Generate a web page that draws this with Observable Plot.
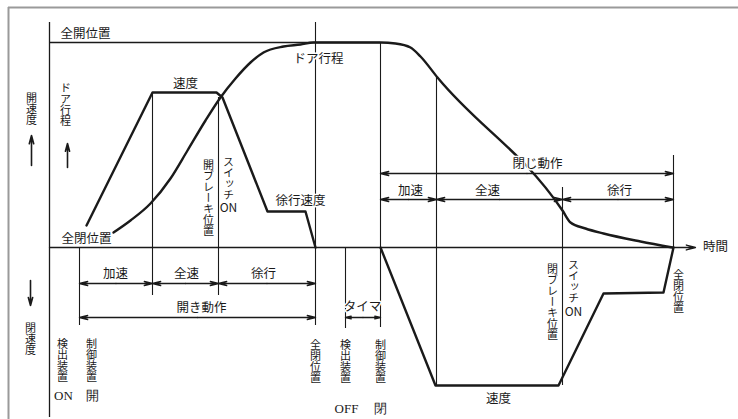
<!DOCTYPE html>
<html><head><meta charset="utf-8">
<script src="https://cdn.jsdelivr.net/npm/d3@7"></script>
<script src="https://cdn.jsdelivr.net/npm/@observablehq/plot@0.6"></script>
<style>body{margin:0;background:#fff} svg{display:block}</style>
</head><body><div id="chart"></div>
<script>
// time (t) and value (v)
const doorTravelT = [64,81,101,121,138,156,171,186,201,214,234,251,264,331,346,361,371,388,513,521,536,554,591,623];
const doorTravelV = [15,27,44,69,97,127,150,169,185,195,201,203,205,205,204,200,191,170,37,25,19,14,6,0];
const openSpeedT = [37,103,167,173,218,256,266];
const openSpeedV = [22,155,155,150,36,36,0];
const closeSpeedT = [331,386,509,554,614,624];
const closeSpeedV = [0,-138,-138,-46,-45,0];

const guideT = [30,103,169,266,296,331,387,513,624];
const guideTop = [0,155,150,225,0,204,170,60,92];
const guideBottom = [-78,-48,-48,-78,-81,-80,-138,-138,0];

const spanFrom = [30,103,169,30,296,331,331,387,513];
const spanTo = [103,169,266,266,331,624,387,513,624];
const spanV = [-36,-36,-36,-70,-70,74,48,48,48];

const hLabels = ["全開位置","ドア行程","速度","徐行速度","全閉位置","加速","全速","徐行","開き動作","タイマ","閉じ動作","加速","全速","徐行","速度","時間"];
const hLabelT = [36,269,136,251,37,66,137,214,152,313,488,361,438,570,449,666];
const hLabelV = [214,189,164,47,9,-26,-26,-26,-60,-59,84,57,57,57,-151,1];

const vLabels = ["開速度","ドア行程","閉速度","検出装置","制御装置","全閉位置","検出装置","制御装置","全閉位置","開ブレーキ位置","スイッチ","閉ブレーキ位置","スイッチ"];
const vLabelT = [-18,16,-19,13,42,266,296,331,629,159,179,503,524];
const vLabelV = [142,147,-88,-109,-109,-110,-110,-110,-40,53,73,-51,-30];

const latinLabels = ["ON","開","OFF","閉","ON","ON"];
const latinT = [14,43,297,331,179,524];
const latinV = [-148,-148,-161,-161,39,-65];

const dirArrowT = [-18,18,-19];
const dirArrowFrom = [82,80,-33];
const dirArrowTo = [112,104,-58];

const zip = (a,b) => a.map((x,i)=>({t:x, v:b[i]}));
const travel = zip(doorTravelT, doorTravelV);
const openSpeed = zip(openSpeedT, openSpeedV);
const closeSpeed = zip(closeSpeedT, closeSpeedV);
const guides = guideT.map((t,i)=>({t, y1:guideTop[i], y2:guideBottom[i]}));
const spans = [];
spanFrom.forEach((f,i)=>{const m=(f+spanTo[i])/2; spans.push({x1:m,x2:f,v:spanV[i]},{x1:m,x2:spanTo[i],v:spanV[i]});});
const hl = hLabels.map((s,i)=>({s, t:hLabelT[i], v:hLabelV[i]}));
const vl = vLabels.map((s,i)=>({s, t:vLabelT[i], v:vLabelV[i]}));
const ll = latinLabels.map((s,i)=>({s, t:latinT[i], v:latinV[i], serif: i < 4}));
const dirs = dirArrowT.map((t,i)=>({t, a:dirArrowFrom[i], b:dirArrowTo[i]}));

const ink = "#1a1a1a";
const font = "Noto Sans CJK JP";

const chart = Plot.plot({
  width: 738, height: 419,
  margin: 0,
  x: {domain: [-49, 689], axis: null},
  y: {domain: [-172, 247], axis: null},
  style: {background: "#fff", fontFamily: font},
  marks: [
    // scan frame
    Plot.ruleY([240], {x1: -41, x2: 689, stroke: "#9a9a9a", strokeWidth: 2}),
    Plot.ruleX([-41], {y1: -172, y2: 240, stroke: "#9a9a9a", strokeWidth: 2}),
    // axes
    Plot.ruleX([0], {y1: -170, y2: 225, stroke: ink, strokeWidth: 1.3}),
    Plot.arrow([{a:0,b:646}], {x1: "a", x2: "b", y1: 0, y2: 0, stroke: ink, strokeWidth: 1.3, headLength: 11, headAngle: 30}),
    Plot.ruleY([205], {x1: 0, x2: 331, stroke: ink, strokeWidth: 1.3}),
    // guide lines
    Plot.ruleX(guides, {x: "t", y1: "y1", y2: "y2", stroke: ink, strokeWidth: 1.1}),
    // dimension arrows
    Plot.arrow(spans, {x1: "x1", x2: "x2", y1: "v", y2: "v", stroke: ink, strokeWidth: 1.4, headLength: 9, headAngle: 28}),
    // curves
    Plot.line(travel, {x: "t", y: "v", curve: "monotone-x", stroke: ink, strokeWidth: 2.4}),
    Plot.line(openSpeed, {x: "t", y: "v", stroke: ink, strokeWidth: 2.4}),
    Plot.line(closeSpeed, {x: "t", y: "v", stroke: ink, strokeWidth: 2.4}),
    // direction arrows
    Plot.arrow(dirs, {x1: "t", x2: "t", y1: "a", y2: "b", stroke: ink, strokeWidth: 1.6, headLength: 8, headAngle: 30}),
    // labels
    Plot.text(hl, {x: "t", y: "v", text: "s", fontSize: 12.5, fill: ink, stroke: "white", strokeWidth: 3}),
    Plot.text(vl, {x: "t", y: "v", text: "s", fontSize: 11, fill: ink, ariaDescription: "vlabel"}),
    Plot.text(ll.filter(d => d.serif), {x: "t", y: "v", text: "s", fontSize: 13, fill: ink, fontFamily: "Liberation Serif"}),
    Plot.text(ll.filter(d => !d.serif), {x: "t", y: "v", text: "s", fontSize: 12, fill: ink})
  ]
});
d3.select(chart).selectAll('g[aria-description="vlabel"] text')
  .attr("dy", null)
  .attr("writing-mode", "vertical-rl")
  .style("writing-mode", "vertical-rl")
  .style("text-orientation", "upright");
document.getElementById("chart").appendChild(chart);
</script>
</body></html>
